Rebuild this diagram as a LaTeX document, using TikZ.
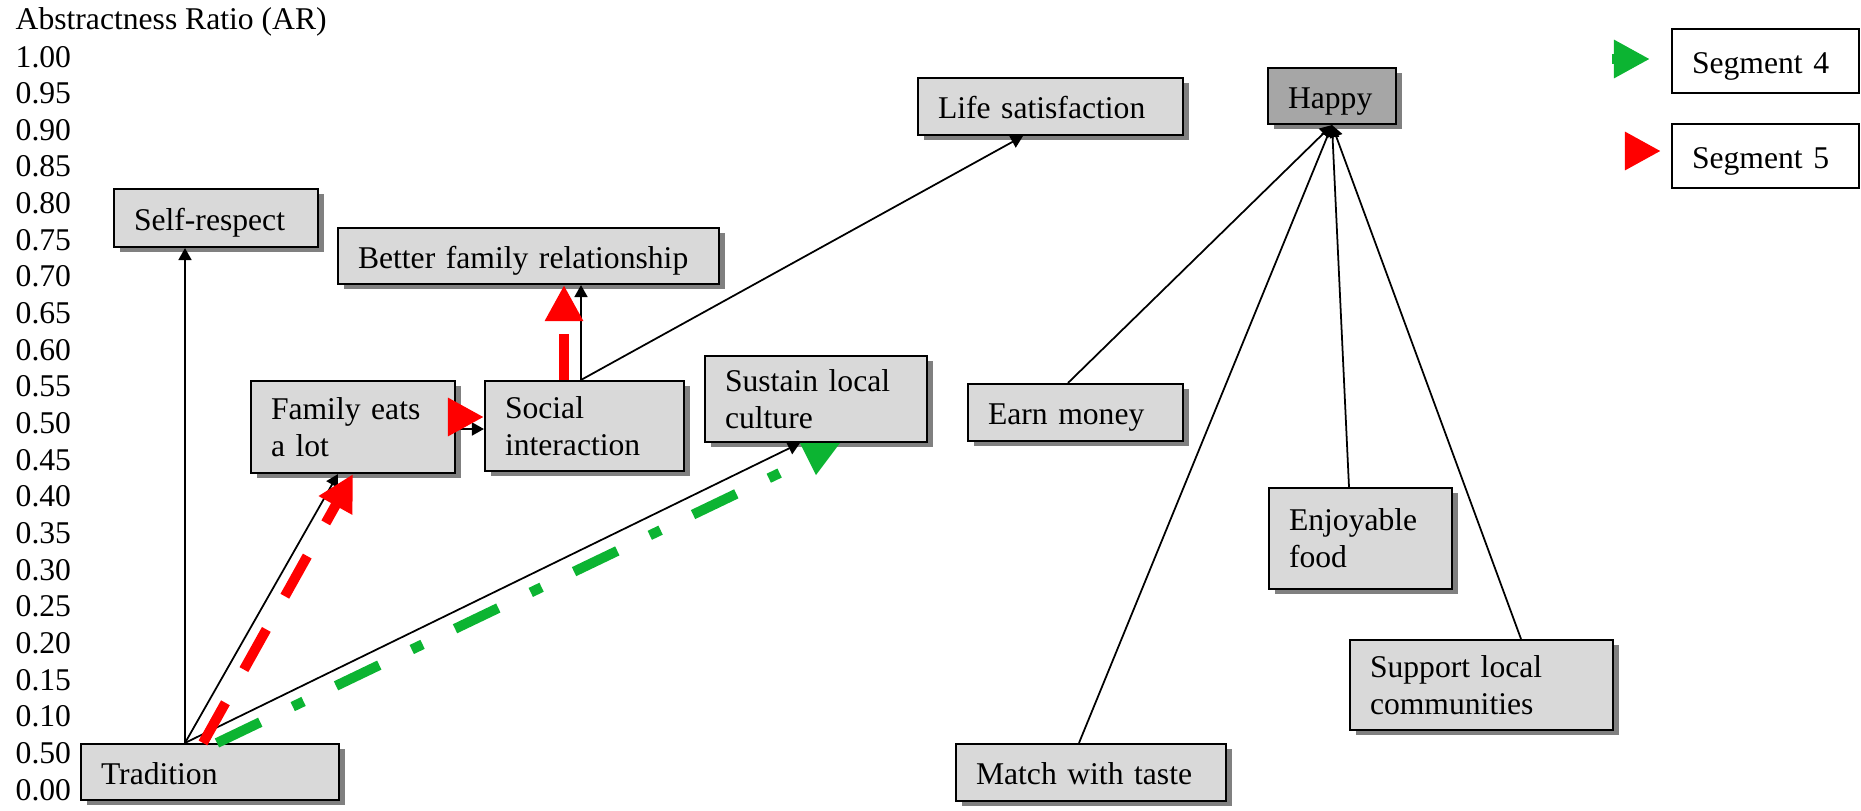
\documentclass[tikz,border=0pt]{standalone}
\usepackage{fontspec}
\setmainfont{Liberation Serif}
\usepackage{tikz}
\usetikzlibrary{arrows.meta, shadows}
\definecolor{boxgray}{HTML}{D9D9D9}
\definecolor{topgray}{HTML}{A6A6A6}
\definecolor{shadowgray}{HTML}{808080}
\definecolor{segred}{HTML}{FF0000}
\definecolor{seggreen}{HTML}{0CB432}

\begin{document}
\begin{tikzpicture}[
    every node/.style={font=\fontsize{9pt}{10.5pt}\selectfont},
    box/.style={rectangle, draw=black, line width=0.6pt, fill=boxgray, align=left, inner xsep=0.2cm, inner ysep=0pt,
        drop shadow={shadow xshift=0.055cm, shadow yshift=-0.05cm, fill=shadowgray, opacity=1}},
    oneline/.style={text height=0.24cm, text depth=0pt},
    legbox/.style={rectangle, draw=black, line width=0.6pt, fill=white, align=left, inner xsep=0.2cm, inner ysep=0pt},
    tick/.style={anchor=base west, inner sep=0pt},
    link/.style={-{Triangle[length=0.12cm, width=0.13cm]}, line width=0.5pt, black},
    seg5/.style={-{Triangle[length=0.36cm, width=0.36cm]}, line width=0.1cm, segred, dash pattern=on 0.46cm off 0.38cm},
    seg4/.style={line width=0.1cm, seggreen, dash pattern=on 0.48cm off 0.36cm on 0.12cm off 0.36cm}
]
\useasboundingbox (0,0) rectangle (18.61,8.10);

% Axis
\node[tick] (axis) at (0.15,7.81) {Abstractness Ratio (AR)};
\foreach \lab [count=\i from 0] in {1.00,0.95,0.90,0.85,0.80,0.75,0.70,0.65,0.60,0.55,0.50,0.45,0.40,0.35,0.30,0.25,0.20,0.15,0.10,0.50,0.00}
    \node[tick] (ar\i) at (0.15,7.43-0.3665*\i) {\lab};

% Attributes, consequences, values
\node[box, oneline, text width=2.18cm, minimum height=0.56cm] (trad)   at (2.10,0.38)   {Tradition};
\node[box, oneline, text width=1.64cm, minimum height=0.58cm] (selfr)  at (2.16,5.92)   {Self-respect};
\node[box, oneline, text width=3.41cm, minimum height=0.56cm] (better) at (5.285,5.54)  {Better family relationship};
\node[box, text width=1.64cm, minimum height=0.92cm] (fam)    at (3.53,3.83)   {Family eats\\a lot};
\node[box, text width=1.59cm, minimum height=0.90cm] (soc)    at (5.845,3.84)  {Social\\interaction};
\node[box, text width=1.82cm, minimum height=0.86cm] (sust)   at (8.16,4.11)   {Sustain local\\culture};
\node[box, oneline, text width=2.25cm, minimum height=0.57cm] (life)   at (10.505,7.035) {Life satisfaction};
\node[box, oneline, fill=topgray, text width=0.88cm, minimum height=0.56cm] (happy) at (13.32,7.14) {Happy};
\node[box, oneline, text width=1.75cm, minimum height=0.57cm] (earn)   at (10.755,3.975) {Earn money};
\node[box, text width=1.43cm, minimum height=1.01cm] (enjoy)  at (13.605,2.715) {Enjoyable\\food};
\node[box, oneline, text width=2.30cm, minimum height=0.57cm] (match)  at (10.91,0.375) {Match with taste};
\node[box, text width=2.23cm, minimum height=0.90cm] (supp)   at (14.815,1.25) {Support local\\communities};

% Legend
\node[legbox, oneline, text width=1.47cm, minimum height=0.64cm] (seg4box) at (17.655,7.49) {Segment 4};
\node[legbox, oneline, text width=1.47cm, minimum height=0.64cm] (seg5box) at (17.655,6.54) {Segment 5};

% Links
\coordinate (tsrc) at ([xshift=-0.25cm]trad.north);
\coordinate (ssrc) at ([xshift=-0.035cm]soc.north);
\draw[link] (tsrc) -- (tsrc |- selfr.south);
\draw[link] (tsrc) -- ([xshift=-0.15cm]fam.south);
\draw[link] (tsrc) -- ([xshift=-0.16cm]sust.south);
\draw[link] ([yshift=-0.02cm]fam.east) -- ([yshift=-0.02cm]fam.east -| soc.west);
\draw[link] (ssrc) -- (ssrc |- better.south);
\draw[link] (ssrc) -- ([xshift=-0.275cm]life.south);
\draw[link] ([xshift=-0.075cm]earn.north) -- (happy.south);
\draw[link] ([xshift=-0.12cm]match.north) -- (happy.south);
\draw[link] ([xshift=-0.115cm]enjoy.north) -- (happy.south);
\draw[link] ([xshift=0.395cm]supp.north) -- (happy.south);

% Segment 5 ladder
\draw[seg5] ([xshift=-0.07cm]trad.north) -- (fam.south);
\draw[seg5] ([xshift=-0.06cm,yshift=0.1cm]fam.east) -- ([yshift=0.1cm]fam.east -| soc.west);
\draw[seg5] ([xshift=-0.205cm]soc.north) -- ([xshift=-0.205cm]soc.north |- better.south);

% Segment 4 ladder
\draw[seg4] ([xshift=0.07cm]trad.north) -- ([xshift=-0.26cm,yshift=-0.25cm]sust.south);
\fill[seggreen] ([xshift=-0.16cm]sust.south) -- ([xshift=0.24cm]sust.south) -- ([yshift=-0.32cm]sust.south) -- cycle;

% Legend arrows
\draw[seg4, -{Triangle[length=0.36cm, width=0.36cm]}] ([xshift=-0.59cm,yshift=0.02cm]seg4box.west) -- ([xshift=-0.21cm,yshift=0.02cm]seg4box.west);
\draw[seg5] ([xshift=-0.46cm,yshift=0.05cm]seg5box.west) -- ([xshift=-0.1cm,yshift=0.05cm]seg5box.west);
\end{tikzpicture}
\end{document}
